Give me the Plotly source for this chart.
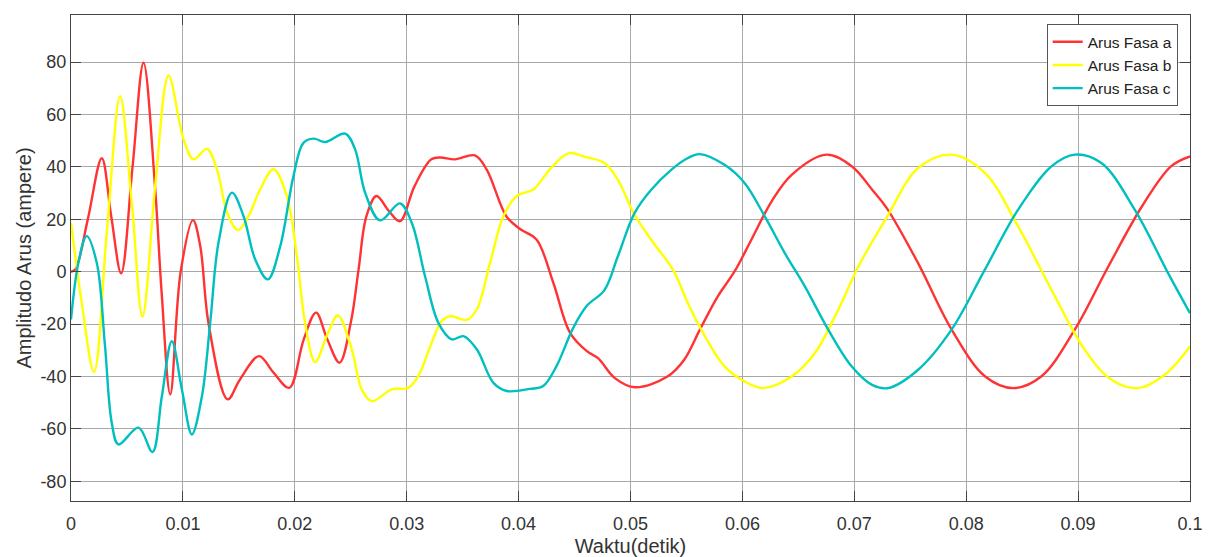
import plotly.graph_objects as go

# Arus tiga fasa: waktu (detik) dan amplitudo (ampere)
t_a = [0, 0.0004, 0.0015, 0.00275, 0.0036, 0.00448, 0.0055, 0.00648, 0.0075, 0.0081,
       0.00887, 0.0098, 0.0109, 0.01155, 0.0123, 0.0140, 0.0151, 0.0168, 0.0181, 0.0195,
       0.0208, 0.0219, 0.0229, 0.0240, 0.0250, 0.0257, 0.0264, 0.0273, 0.0284, 0.0294,
       0.0307, 0.0322, 0.0330, 0.0343, 0.0361, 0.03715, 0.0389, 0.0401, 0.0416, 0.0431,
       0.0446, 0.0461, 0.0471, 0.0486, 0.0504, 0.0533, 0.0548, 0.0562, 0.0578, 0.0593,
       0.0608, 0.0626, 0.0644, 0.0675, 0.0698, 0.0716, 0.0729, 0.0757, 0.0787, 0.0817,
       0.0842, 0.0867, 0.0897, 0.0927, 0.0957, 0.0983, 0.1]
i_a = [0, 1, 20, 43.3, 21, -0.6, 40, 79.8, 33, -8,
       -46.8, 0, 19.7, 9.8, -20, -48.7, -41.1, -32.2, -38.5, -44.3,
       -25.8, -15.6, -25.8, -34.7, -19.5, 0.9, 21.2, 28.9, 23.2, 19.3,
       32.7, 42.9, 43.6, 42.9, 44.4, 39, 21.2, 16.4, 12.3, -4.2,
       -23.3, -30.3, -33, -40.6, -44.1, -40, -33.6, -22.1, -9.4, 0.1,
       12.2, 26.8, 37, 44.7, 40.2, 31.3, 24.3, 3.3, -22.1, -40,
       -44.4, -40, -22.1, 2, 24.9, 40.2, 44]

t_b = [0, 0.00096, 0.00206, 0.00322, 0.00439, 0.00543, 0.00639, 0.00752, 0.00872, 0.01006,
       0.01095, 0.01214, 0.01304, 0.01396, 0.01491, 0.01586, 0.0169, 0.0181, 0.01929, 0.02018,
       0.02092, 0.02182, 0.0229, 0.02384, 0.02509, 0.02598, 0.02688, 0.02866, 0.03015, 0.03104,
       0.03223, 0.0331, 0.0339, 0.03537, 0.03626, 0.03745, 0.03864, 0.03983, 0.04131, 0.0428,
       0.04444, 0.0460, 0.04767, 0.04887, 0.05036, 0.05185, 0.05379, 0.05513, 0.05633, 0.0584,
       0.06021, 0.06185, 0.06439, 0.06648, 0.06857, 0.07036, 0.0729, 0.07571, 0.07869, 0.08167,
       0.08464, 0.08762, 0.0906, 0.09298, 0.09536, 0.09774, 0.1]
i_b = [18.7, -11.8, -38.3, 16.2, 67, 26.3, -17.2, 32.7, 74.9, 50.5,
       42.9, 46.9, 39.1, 22.5, 15.9, 21.2, 31.4, 39.1, 28.9, 6,
       -19.5, -34.5, -24, -16.7, -29.6, -44.9, -49.4, -44.9, -44.3, -39.8,
       -27.1, -19, -16.9, -18.4, -14.4, 3.4, 21.2, 28.9, 31.4, 39.1,
       45.2, 43.8, 41.5, 35.1, 21.8, 12.2, 0.8, -12, -22.1, -36.1,
       -41.9, -44.4, -40, -31, -14.5, 2, 20.8, 39.6, 44.7, 37.7,
       17.3, -6.9, -29.8, -41.2, -44.4, -39.3, -28.5]

t_c = [0, 0.00066, 0.0014, 0.0023, 0.00304, 0.00364, 0.00424, 0.00603, 0.00728, 0.00812,
       0.00901, 0.00991, 0.0108, 0.0117, 0.01244, 0.01318, 0.01438, 0.01542, 0.01646, 0.01759,
       0.0187, 0.01988, 0.02077, 0.0217, 0.02271, 0.0245, 0.02539, 0.02628, 0.02762, 0.0294,
       0.03045, 0.03164, 0.03283, 0.03403, 0.03507, 0.03626, 0.03775, 0.03894, 0.04102, 0.0422,
       0.04339, 0.04488, 0.0461, 0.04767, 0.04887, 0.05036, 0.05185, 0.05364, 0.05513, 0.05618,
       0.0584, 0.06021, 0.062, 0.06379, 0.06558, 0.06767, 0.06976, 0.07155, 0.0730, 0.07571,
       0.07869, 0.08167, 0.08464, 0.08762, 0.0897, 0.09208, 0.09506, 0.09804, 0.1]
i_c = [-18.2, 3.4, 13.6, 3.4, -28.4, -57.6, -65.9, -59.5, -68.8, -47.5,
       -26.5, -44.9, -62.1, -47.5, -19.5, 11.1, 30.2, 21.2, 4.7, -2.9,
       9.8, 36.5, 49.2, 50.8, 49.5, 52.7, 46.7, 30.2, 19.6, 26.1,
       18.7, -1.7, -19.5, -25.8, -24.6, -29.6, -42.4, -45.5, -44.7, -43.6,
       -36, -21.4, -13, -7, 5.9, 22.4, 31.3, 38.9, 43.4, 44.9,
       40.8, 33.8, 21.1, 7.1, -5.6, -22.1, -36.1, -43.1, -44.4, -37.4,
       -22.1, 0.8, 23.7, 40.2, 44.7, 41.5, 23.7, -0.5, -15.8]

series = [
    ("Arus Fasa a", t_a, i_a, "#ff3333"),
    ("Arus Fasa b", t_b, i_b, "#ffff00"),
    ("Arus Fasa c", t_c, i_c, "#00bfbf"),
]

x_ticks = [i / 100 for i in range(11)]
x_labels = ["0", "0.01", "0.02", "0.03", "0.04", "0.05", "0.06", "0.07", "0.08", "0.09", "0.1"]
y_ticks = [-80, -60, -40, -20, 0, 20, 40, 60, 80]
y_labels = ["-80", "-60", "-40", "-20", "0", "20", "40", "60", "80"]

FONT = "Liberation Sans, Arial, sans-serif"
TXT = "#333333"

fig = go.Figure()
for name, t, i, col in series:
    fig.add_trace(go.Scatter(
        x=t, y=i, name=name, mode="lines",
        line=dict(color=col, width=2.4, shape="spline", smoothing=1.0),
    ))

axis_common = dict(
    showline=True, linecolor="#444444", linewidth=1, mirror="ticks",
    ticks="inside", ticklen=10, tickcolor="#444444", tickwidth=1,
    showgrid=True, gridcolor="#a8a8a8", gridwidth=1, zeroline=False,
    tickfont=dict(family=FONT, size=18, color=TXT), automargin=False,
)

fig.update_xaxes(
    range=[0, 0.1], tickvals=x_ticks, ticktext=x_labels, ticklabelstandoff=6,
    title=dict(text="Waktu(detik)", font=dict(family=FONT, size=20, color=TXT), standoff=12),
    **axis_common,
)
fig.update_yaxes(
    range=[-87.5, 98], tickvals=y_ticks, ticktext=y_labels,
    title=dict(text="Amplitudo Arus (ampere)", font=dict(family=FONT, size=20, color=TXT), standoff=3),
    **axis_common,
)

fig.update_layout(
    width=1209, height=557,
    margin=dict(l=71, r=19, t=15, b=56),
    paper_bgcolor="white", plot_bgcolor="white",
    font=dict(family=FONT, color=TXT),
    legend=dict(
        x=0.989, y=0.981, xanchor="right", yanchor="top",
        bgcolor="white", bordercolor="#555555", borderwidth=1,
        font=dict(family=FONT, size=15.5, color="#222222"),
        tracegroupgap=0, itemwidth=30,
    ),
)

fig.write_html("out.html")
